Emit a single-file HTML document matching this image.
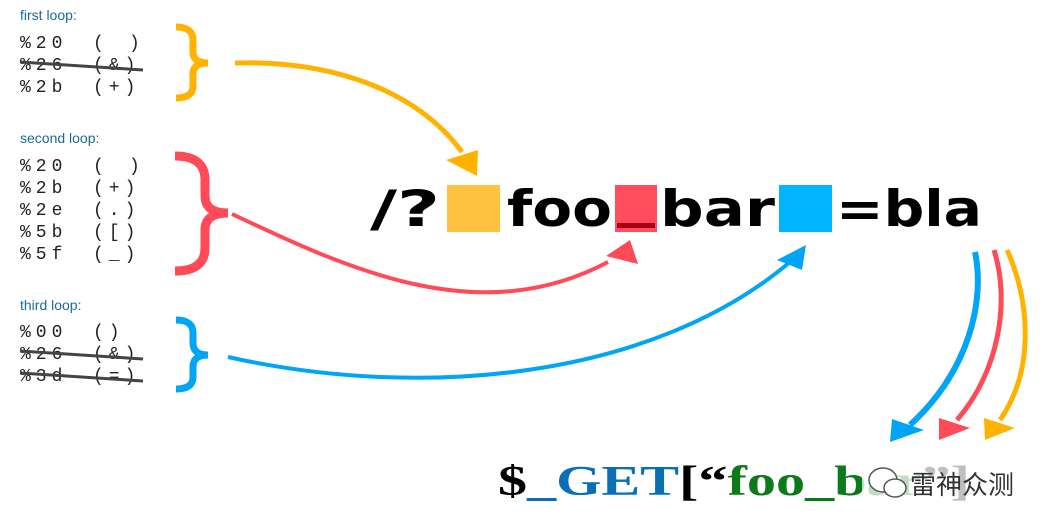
<!DOCTYPE html>
<html><head><meta charset="utf-8"><style>
html,body{margin:0;padding:0;background:#fff;}
svg{display:block;}
.lbl{font-family:"Liberation Sans",sans-serif;font-size:14px;fill:#1b6c96;}
.mono{font-family:"Liberation Mono",monospace;font-size:18px;fill:#222;letter-spacing:5px;}
.big{font-family:"DejaVu Sans",sans-serif;font-weight:bold;font-size:50px;fill:#000;}
.bot{font-family:"Liberation Serif",serif;font-weight:bold;font-size:42px;}
</style></head><body>
<svg width="1056" height="530" viewBox="0 0 1056 530" xmlns="http://www.w3.org/2000/svg">
<text class="lbl" x="20" y="20">first loop:</text>
<g class="mono">
<text x="20" y="48">%20</text><text x="93" y="48">(</text><text x="129" y="48">)</text>
<text x="20" y="70">%26</text><text x="93" y="70">(&amp;)</text>
<text x="20" y="92">%2b</text><text x="93" y="92">(+)</text>

<text x="20" y="171">%20</text><text x="93" y="171">(</text><text x="129" y="171">)</text>
<text x="20" y="193">%2b</text><text x="93" y="193">(+)</text>
<text x="20" y="215">%2e</text><text x="93" y="215">(.)</text>
<text x="20" y="237">%5b</text><text x="93" y="237">([)</text>
<text x="20" y="259">%5f</text><text x="93" y="259">(_)</text>

<text x="20" y="337">%00</text><text x="93" y="337">()</text>
<text x="20" y="359">%26</text><text x="93" y="359">(&amp;)</text>
<text x="20" y="381">%3d</text><text x="93" y="381">(=)</text>
</g>
<line x1="20" y1="62" x2="143" y2="70" stroke="#444" stroke-width="3"/>
<text class="lbl" x="20" y="143">second loop:</text>
<text class="lbl" x="20" y="310">third loop:</text>
<line x1="20" y1="351" x2="143" y2="359" stroke="#444" stroke-width="3"/>
<line x1="20" y1="373" x2="143" y2="381" stroke="#444" stroke-width="3"/>

<path d="M176,27 Q193,27 193,40 L193,52 Q193,63 208,63 Q193,63 193,74 L193,86 Q193,98 176,98" fill="none" stroke="#ffb300" stroke-width="7"/>
<path d="M175,156 Q205,156 205,180 L205,196 Q205,213 228,213 Q205,213 205,230 L205,248 Q205,271 175,271" fill="none" stroke="#ff4b57" stroke-width="9"/>
<path d="M176,320 Q193,320 193,333 L193,343 Q193,355 208,355 Q193,355 193,367 L193,377 Q193,389 176,389" fill="none" stroke="#00a5f5" stroke-width="7"/>

<rect x="447" y="185" width="53" height="47" fill="#ffc240"/>
<rect x="615" y="185" width="42" height="47" fill="#ff4d5e"/>
<rect x="617" y="223" width="38" height="5" fill="#a80018"/>
<rect x="779" y="185" width="53" height="47" fill="#00b4ff"/>
<text class="big" x="370" y="226" textLength="70" lengthAdjust="spacingAndGlyphs">/?</text>
<text class="big" x="507" y="226" textLength="105" lengthAdjust="spacingAndGlyphs">foo</text>
<text class="big" x="660" y="226" textLength="115" lengthAdjust="spacingAndGlyphs">bar</text>
<text class="big" x="836" y="226" textLength="146" lengthAdjust="spacingAndGlyphs">=bla</text>

<path d="M235,63 C340,60 420,95 462,152" fill="none" stroke="#ffb300" stroke-width="5"/>
<polygon points="446,160 478,150 477,176" fill="#ffb300"/>
<path d="M232,214 C350,270 480,330 608,262" fill="none" stroke="#ff4b57" stroke-width="4"/>
<polygon points="606,256 630,240 638,264" fill="#ff4b57"/>
<path d="M228,357 C420,400 650,380 790,262" fill="none" stroke="#00a5f5" stroke-width="4"/>
<polygon points="777,260 806,245 802,270" fill="#00a5f5"/>

<path d="M975,252 C985,300 970,370 910,425" fill="none" stroke="#00a5f5" stroke-width="6"/>
<polygon points="892,419 924,430 890,442" fill="#00a5f5"/>
<path d="M994,250 C1010,300 1000,370 957,420" fill="none" stroke="#ff4b57" stroke-width="5"/>
<polygon points="939,418 970,428 939,440" fill="#ff4b57"/>
<path d="M1007,250 C1030,300 1035,370 1000,420" fill="none" stroke="#ffb300" stroke-width="5"/>
<polygon points="984,418 1015,428 985,440" fill="#ffb300"/>

<text class="bot" x="498" y="495" textLength="472" lengthAdjust="spacingAndGlyphs"><tspan fill="#000">$</tspan><tspan fill="#0a6fb5">_GET</tspan><tspan fill="#000">[“</tspan><tspan fill="#0b7a1a">foo_bar</tspan><tspan fill="#000">”]</tspan></text>
<rect x="862" y="462" width="160" height="40" fill="#fff" opacity="0.75"/>
<ellipse cx="883" cy="480" rx="14" ry="12" fill="#fff" stroke="#555" stroke-width="1.5"/>
<ellipse cx="895" cy="488" rx="11" ry="9" fill="#fff" stroke="#555" stroke-width="1.5"/>
<text x="910" y="494" font-family="'Liberation Sans','Noto Sans CJK SC',sans-serif" font-size="26" fill="#333">雷神众测</text>
</svg>
</body></html>
